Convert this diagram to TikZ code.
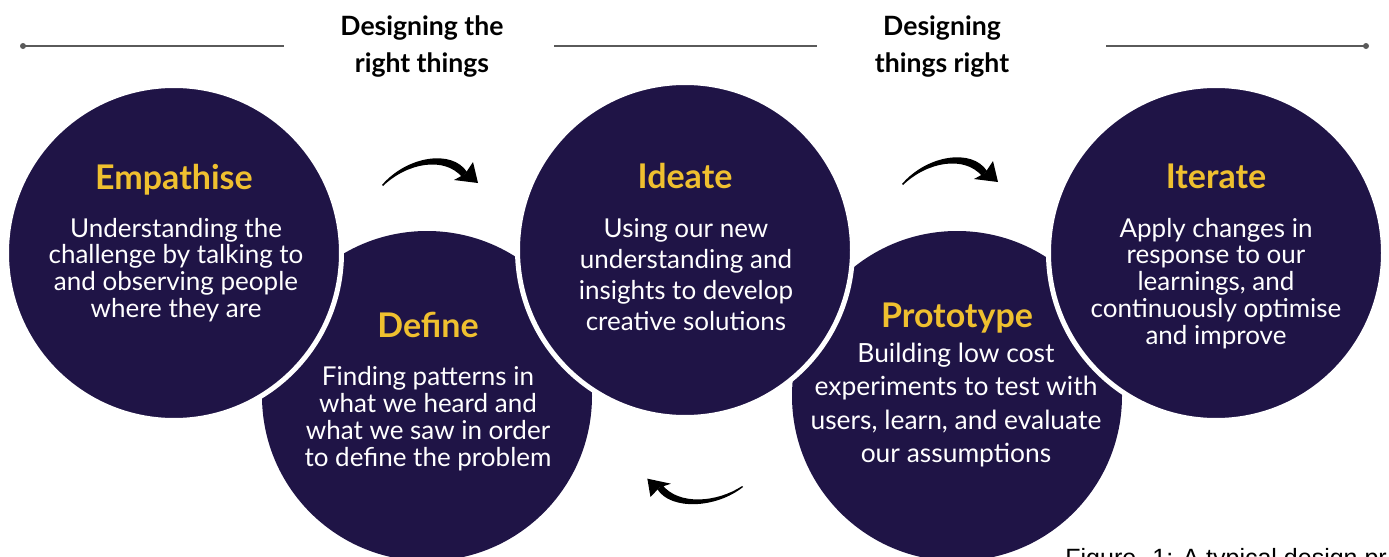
\documentclass[tikz,border=0pt]{standalone}
\usepackage{fontspec}
\setmainfont{Lato}
\newfontfamily\capfont{Liberation Sans}
\definecolor{navy}{HTML}{1F1446}
\definecolor{gold}{HTML}{EFC02F}
\definecolor{rulegray}{HTML}{5A5A5A}
% centred block of lines whose baseline is the first line's baseline
\newcommand{\ptext}[1]{\begin{tabular}[t]{@{}c@{}}#1\end{tabular}}

\begin{document}
\begin{tikzpicture}[x=0.5pt,y=-0.5pt,
  lower/.style={circle, fill=navy, minimum size=165pt, inner sep=0pt},
  upper/.style={circle, fill=navy, draw=white, line width=2.5pt, minimum size=167.5pt, inner sep=0pt},
  title/.style={text=gold, anchor=base, inner sep=0pt, font=\fontsize{17}{17}\selectfont\bfseries},
  desc/.style={text=white, anchor=base, inner sep=0pt},
  head/.style={text=black, anchor=base, inner sep=0pt, font=\fontsize{13.3}{18.5}\selectfont\bfseries},
  rule/.style={draw=rulegray, line width=0.9pt},
  ruledot/.style={circle, fill=rulegray, minimum size=3pt, inner sep=0pt},
  curvearrow/.pic={
    \fill (0,0) .. controls (25,-29) and (70,-36) .. (85,-13) -- (80,-8)
          .. controls (62,-29) and (25,-22) .. (1,1) -- cycle;
    \fill (91,-23) -- (96,-2) -- (72,-5) -- (83,-11) -- cycle;
  }]
\useasboundingbox (0,0) rectangle (1389,557);
\clip (0,0) rectangle (1389,557);

% rules of the two headings
\node[ruledot] (r1a) at (23,46) {};
\coordinate (r1b) at (284,46);
\coordinate (r2a) at (554,46);
\coordinate (r2b) at (817,46);
\coordinate (r3a) at (1106,46);
\node[ruledot] (r3b) at (1366,46) {};
\draw[rule] (r1a.center) -- (r1b);
\draw[rule] (r2a) -- (r2b);
\draw[rule] (r3a) -- (r3b.center);

\node[head] (h1) at (422,35) {\ptext{Designing the\\right things}};
\node[head] (h2) at (942,35) {\ptext{Designing\\things right}};

% lower row of phases
\node[lower] (def) at (427,396) {};
\node[lower] (pro) at (957,396) {};
% upper row of phases, ringed in white where they overlap
\node[upper] (emp) at (174,253) {};
\node[upper] (ide) at (685,250) {};
\node[upper] (ite) at (1216,253) {};

% phase texts
\node[title] (empT) at (174,189) {Empathise};
\node[desc, font=\fontsize{13}{13}\selectfont] (empD) at (176,237)
  {\ptext{Understanding the\\challenge by talking to\\and observing people\\where they are}};

\node[title] (defT) at (428,337) {Define};
\node[desc, font=\fontsize{13}{13.1}\selectfont] (defD) at (428,385)
  {\ptext{Finding patterns in\\what we heard and\\what we saw in order\\to define the problem}};

\node[title] (ideT) at (685,188) {Ideate};
\node[desc, font=\fontsize{13}{15.5}\selectfont] (ideD) at (686,237)
  {\ptext{Using our new\\understanding and\\insights to develop\\creative solutions}};

\node[title] (proT) at (957,327) {Prototype};
\node[desc, font=\fontsize{13.2}{16.8}\selectfont] (proD) at (956,362)
  {\ptext{Building low cost\\experiments to test with\\users, learn, and evaluate\\our assumptions}};

\node[title] (iteT) at (1216,188) {Iterate};
\node[desc, font=\fontsize{13}{13.1}\selectfont] (iteD) at (1216,237)
  {\ptext{Apply changes in\\response to our\\learnings, and\\continuously optimise\\and improve}};

% flow arrows
\pic at (382,185) {curvearrow};
\pic at (902,184) {curvearrow};
\pic[rotate=174, yscale=0.85] at (743,487) {curvearrow};

% caption
\node[anchor=base west, inner sep=0pt, font=\capfont\fontsize{12.5}{12.5}\selectfont] (cap)
  at (1065,566) {Figure. 1: A typical design pr};
\end{tikzpicture}
\end{document}
